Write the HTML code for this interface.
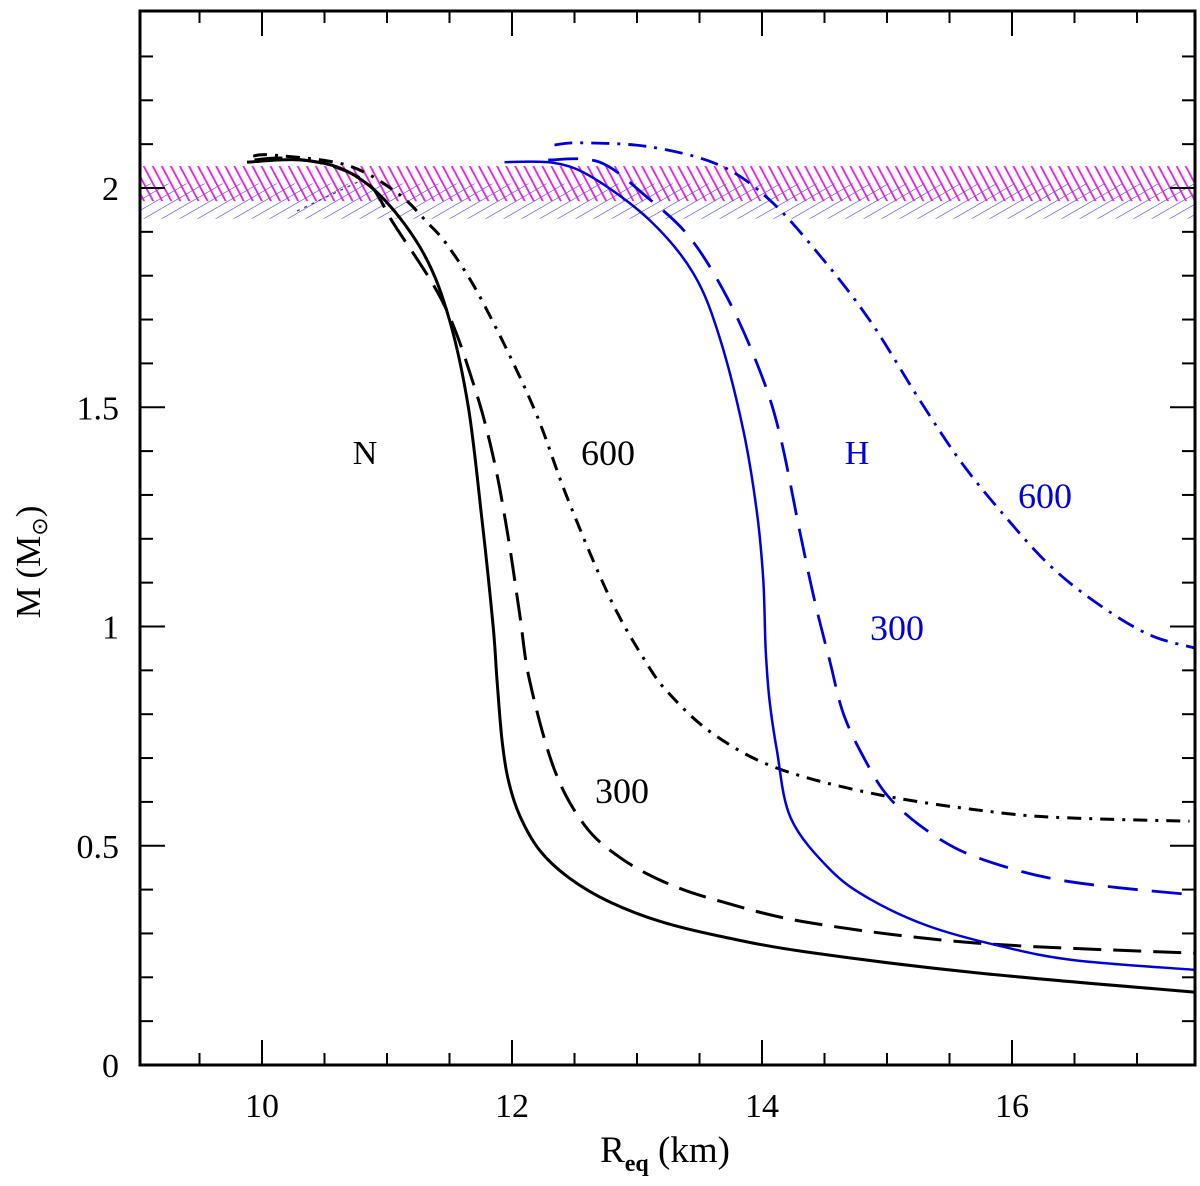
<!DOCTYPE html>
<html><head><meta charset="utf-8"><style>
html,body{margin:0;padding:0;background:#fff;}
svg{display:block;}
text{font-family:"Liberation Serif",serif;}
</style></head><body>
<svg id="chart" width="1200" height="1186" viewBox="0 0 1200 1186" xmlns="http://www.w3.org/2000/svg">
<defs>
<clipPath id="plotclip"><rect x="140" y="11" width="1055" height="1054"/></clipPath>
<pattern id="hatchMag" patternUnits="userSpaceOnUse" width="8" height="8" patternTransform="rotate(-28)">
<line x1="0" y1="0" x2="0" y2="8" stroke="#e020e0" stroke-width="3.6"/>
</pattern>
<pattern id="hatchBlue" patternUnits="userSpaceOnUse" width="9" height="9" patternTransform="rotate(60)">
<line x1="0" y1="0" x2="0" y2="9" stroke="#3333dd" stroke-width="1.1"/>
</pattern>
</defs>
<g id="bands" clip-path="url(#plotclip)"></g>
<g id="curves" clip-path="url(#plotclip)"></g>
<g id="axes"></g>
</svg>
<script>
const xTicksMajor = [10, 12, 14, 16];
const yTicksMajor = [0, 0.5, 1, 1.5, 2];
const yTickLabels = ["0", "0.5", "1", "1.5", "2"];
const bandAntoniadis = [1.97, 2.05];
const bandDemorest = [1.93, 2.01];
// N solid (0)
const nSolidR = [9.88,10.30,10.66,10.98,11.30,11.50,11.65,11.76,11.85,11.88,11.92,11.97,12.06,12.22,12.46,12.78,13.18,13.66,14.35,15.72,17.46];
const nSolidM = [2.059,2.064,2.041,1.973,1.847,1.699,1.501,1.243,0.999,0.878,0.741,0.650,0.570,0.490,0.426,0.372,0.328,0.294,0.258,0.210,0.166];
// N dashed (300)
const nDashR = [9.94,10.18,10.54,10.86,11.05,11.45,11.70,11.85,11.96,12.06,12.14,12.34,12.58,12.86,13.22,13.66,14.39,15.72,17.46];
const nDashM = [2.064,2.068,2.052,2.007,1.920,1.738,1.546,1.387,1.220,1.031,0.878,0.673,0.547,0.474,0.417,0.374,0.324,0.278,0.255];
// N dash-dot (600)
const nDDR = [9.93,10.09,10.68,11.08,11.32,11.50,11.77,12.17,12.44,12.78,13.06,13.26,13.61,14.12,14.94,15.91,16.50,17.42];
const nDDM = [2.073,2.075,2.052,1.989,1.922,1.863,1.738,1.501,1.295,1.067,0.924,0.846,0.755,0.677,0.616,0.575,0.563,0.556];
// H solid (0)
const hSolidR = [11.94,12.34,12.65,13.10,13.45,13.66,13.85,13.96,14.01,14.03,14.06,14.12,14.23,14.54,14.86,15.33,15.91,16.50,17.46];
const hSolidM = [2.059,2.057,2.023,1.927,1.806,1.660,1.448,1.259,1.106,0.946,0.832,0.716,0.563,0.447,0.379,0.317,0.271,0.239,0.217];
// H dashed (300)
const hDashR = [12.29,12.70,13.08,13.42,13.72,13.98,14.14,14.30,14.42,14.54,14.66,14.86,15.02,15.26,15.58,15.98,16.38,16.86,17.46];
const hDashM = [2.064,2.059,1.979,1.888,1.751,1.585,1.441,1.220,1.060,0.924,0.794,0.677,0.609,0.547,0.490,0.449,0.422,0.404,0.388];
// H dash-dot (600)
const hDDR = [12.34,12.54,13.10,13.66,14.06,14.46,14.86,15.26,15.58,15.90,16.30,16.70,17.10,17.46];
const hDDM = [2.098,2.103,2.094,2.052,1.973,1.847,1.699,1.517,1.380,1.266,1.140,1.049,0.981,0.951];

const X0=137, XS=125, Y0=1065, YS=438.5;
const sx = r => X0 + (r-9)*XS;
const sy = m => Y0 - m*YS;
const NS="http://www.w3.org/2000/svg";
function mk(tag, attrs, parent){const e=document.createElementNS(NS,tag);for(const k in attrs)e.setAttribute(k,attrs[k]);parent.appendChild(e);return e;}

const bands=document.getElementById('bands');
let b1=mk('rect',{x:140,y:sy(bandDemorest[1]),width:1055,height:sy(bandDemorest[0])-sy(bandDemorest[1]),fill:'url(#hatchBlue)'},bands);


let b2=mk('rect',{x:140,y:sy(bandAntoniadis[1]),width:1055,height:sy(bandAntoniadis[0])-sy(bandAntoniadis[1]),fill:'url(#hatchMag)'},bands);


let dl=mk('line',{x1:297,y1:211,x2:362,y2:180,stroke:'#3333dd','stroke-width':1.3,'stroke-dasharray':'3,5'},bands);



const curves=document.getElementById('curves');
function smoothPath(P){
  let d='M'+P[0][0].toFixed(1)+','+P[0][1].toFixed(1);
  for(let i=0;i<P.length-1;i++){
    const p0=P[i-1]||P[i],p1=P[i],p2=P[i+1],p3=P[i+2]||P[i+1];
    const c1=[p1[0]+(p2[0]-p0[0])/6,p1[1]+(p2[1]-p0[1])/6];
    const c2=[p2[0]-(p3[0]-p1[0])/6,p2[1]-(p3[1]-p1[1])/6];
    d+=' C'+c1.map(v=>v.toFixed(1)).join(',')+' '+c2.map(v=>v.toFixed(1)).join(',')+' '+p2[0].toFixed(1)+','+p2[1].toFixed(1);
  }
  return d;
}
function drawCurve(R,M,color,w,dash,name){
  const P=R.map((r,i)=>[sx(r),sy(M[i])]);
  const p=mk('path',{d:smoothPath(P),fill:'none',stroke:color,'stroke-width':w,'stroke-linejoin':'round'},curves);
  if(dash)p.setAttribute('stroke-dasharray',dash);
  
  
}
drawCurve(nSolidR,nSolidM,'#000',3,null,'curve-n-0');
drawCurve(nDashR,nDashM,'#000',3,'28,12','curve-n-300');
drawCurve(nDDR,nDDM,'#000',3,'14,8,3,8','curve-n-600');
drawCurve(hSolidR,hSolidM,'#0000dd',2.5,null,'curve-h-0');
drawCurve(hDashR,hDashM,'#0000dd',2.8,'30,14','curve-h-300');
drawCurve(hDDR,hDDM,'#0000dd',2.8,'18,8,3,8','curve-h-600');

const axes=document.getElementById('axes');
let fr=mk('rect',{x:140,y:11,width:1055,height:1054,fill:'none',stroke:'#000','stroke-width':3},axes);


for(let r=9.5;r<17.5;r+=0.5){
  const major=xTicksMajor.includes(r);const L=major?25:12;
  mk('line',{x1:sx(r),y1:1065,x2:sx(r),y2:1065-L,stroke:'#000','stroke-width':2},axes);
  mk('line',{x1:sx(r),y1:11,x2:sx(r),y2:11+L,stroke:'#000','stroke-width':2},axes);
}
for(let i=1;i<24;i++){
  const m=i/10;const major=(i%5===0);const L=major?25:13;
  mk('line',{x1:140,y1:sy(m),x2:140+L,y2:sy(m),stroke:'#000','stroke-width':2},axes);
  mk('line',{x1:1195,y1:sy(m),x2:1195-L,y2:sy(m),stroke:'#000','stroke-width':2},axes);
}
xTicksMajor.forEach(r=>{
  const t=mk('text',{x:sx(r),y:1117,'font-size':34,'text-anchor':'middle'},axes);
  t.textContent=String(r);
  
  
});
yTicksMajor.forEach((m,i)=>{
  const t=mk('text',{x:119,y:sy(m)+12,'font-size':34,'text-anchor':'end'},axes);
  t.textContent=yTickLabels[i];
  
  
});
</script>
<svg style="position:absolute;left:0;top:0" width="1200" height="1186" xmlns="http://www.w3.org/2000/svg">
<text x="665" y="1162" font-size="37" text-anchor="middle" font-family="Liberation Serif, serif">R<tspan font-size="24" dy="9" font-weight="bold">eq</tspan><tspan dy="-9"> (km)</tspan></text>
<text transform="translate(40,562) rotate(-90)" font-size="35" text-anchor="middle" font-family="Liberation Serif, serif">M  (M<tspan font-size="22" dy="7">⊙</tspan><tspan dy="-7">)</tspan></text>
<text x="365" y="464" font-size="34" text-anchor="middle" font-family="Liberation Serif, serif">N</text>
<text x="608" y="465" font-size="36" text-anchor="middle" font-family="Liberation Sans, sans-serif">600</text>
<text x="622" y="803" font-size="36" text-anchor="middle" font-family="Liberation Sans, sans-serif">300</text>
<text x="857" y="464" font-size="34" text-anchor="middle" fill="#0000dd" font-family="Liberation Serif, serif">H</text>
<text x="1045" y="508" font-size="36" text-anchor="middle" fill="#0000dd" font-family="Liberation Sans, sans-serif">600</text>
<text x="897" y="640" font-size="36" text-anchor="middle" fill="#0000dd" font-family="Liberation Sans, sans-serif">300</text>
</svg>
</body></html>
